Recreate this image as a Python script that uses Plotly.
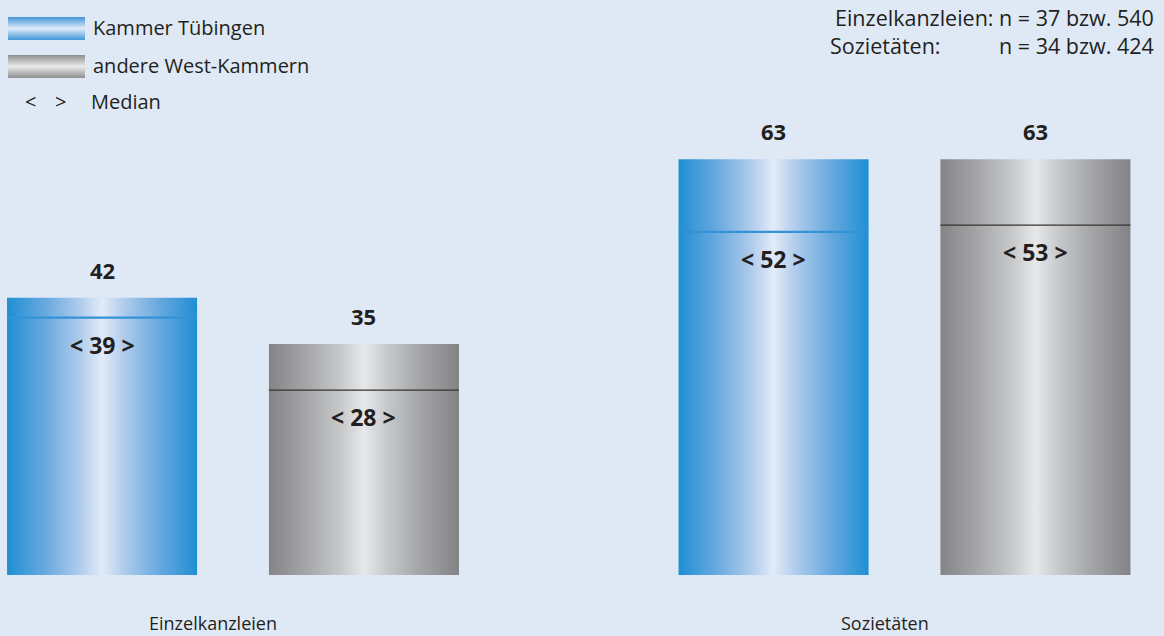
import plotly.graph_objects as go

# ---- data ----
groups = ["Einzelkanzleien", "Sozietäten"]
series_names = ["Kammer Tübingen", "andere West-Kammern"]
mean_tuebingen = [42, 63]
mean_west = [35, 63]
median_tuebingen = [39, 52]
median_west = [28, 53]
n_line1 = "Einzelkanzleien: n = 37 bzw. 540"
n_line2_label = "Sozietäten:"
n_line2_value = "n = 34 bzw. 424"

# ---- style ----
W, H = 1164, 636
BG = "#dfe9f5"
TXT = "#231f20"
FONT = "Open Sans"
BLUE_SCALE = [[0, "#1f8fd3"], [0.2, "#68a9df"], [0.38, "#aecbec"], [0.5, "#e2ebf8"],
              [0.62, "#aecbec"], [0.8, "#68a9df"], [1, "#1f8fd3"]]
GRAY_SCALE = [[0, "#848486"], [0.22, "#a9aaac"], [0.38, "#c8c9cb"], [0.5, "#e7e8ea"],
              [0.62, "#c8c9cb"], [0.8, "#a3a4a6"], [1, "#838385"]]
BLUE_SW = [[0, "#4296d8"], [0.5, "#e0eaf8"], [1, "#4296d8"]]
GRAY_SW = [[0, "#8d8d8f"], [0.5, "#ebebec"], [1, "#8d8d8f"]]

bar_w = 0.283
offset = 0.195
series = [
    (mean_tuebingen, median_tuebingen, -offset, BLUE_SCALE, "#3493d6", 2.2),
    (mean_west, median_west, offset, GRAY_SCALE, "#333333", 1.2),
]

fig = go.Figure()
annotations = []

for means, medians, off, cscale, mcol, mw in series:
    for gi, (v, m) in enumerate(zip(means, medians)):
        c = gi + off
        x0, x1 = c - bar_w / 2, c + bar_w / 2
        fig.add_trace(go.Scatter(
            x=[x0, x1, x1, x0, x0], y=[0, 0, v, v, 0],
            mode="lines", fill="toself",
            line=dict(width=0, color="rgba(0,0,0,0)"),
            fillgradient=dict(type="horizontal", colorscale=cscale),
            hoverinfo="skip", showlegend=False))
        fig.add_trace(go.Scatter(
            x=[x0, x1], y=[m, m], mode="lines",
            line=dict(color=mcol, width=mw),
            hoverinfo="skip", showlegend=False))
        annotations.append(dict(x=c, y=v, xref="x", yref="y", text=f"<b>{v}</b>",
                                showarrow=False, yanchor="middle", yshift=28,
                                font=dict(size=22, color=TXT, family=FONT)))
        annotations.append(dict(x=c, y=m, xref="x", yref="y",
                                text=f"<b>&lt; {m} &gt;</b>",
                                showarrow=False, yanchor="middle", yshift=-27,
                                font=dict(size=23, color=TXT, family=FONT)))

for gi, g in enumerate(groups):
    annotations.append(dict(x=gi, y=-7.2, xref="x", yref="y", text=g, showarrow=False,
                            xshift=-20, yanchor="middle",
                            font=dict(size=18, color=TXT, family=FONT)))

# ---- legend (drawn on a pixel overlay axis) ----
for (y0, y1), cs in zip([(17, 40), (55, 78)], [BLUE_SW, GRAY_SW]):
    fig.add_trace(go.Scatter(
        x=[8, 85, 85, 8, 8], y=[y0, y0, y1, y1, y0], xaxis="x2", yaxis="y2",
        mode="lines", fill="toself", line=dict(width=0, color="rgba(0,0,0,0)"),
        fillgradient=dict(type="vertical", colorscale=cs),
        hoverinfo="skip", showlegend=False))

def px(x, y):
    return x / W, 1 - y / H

for name, ly in zip(series_names, [28, 66]):
    xx, yy = px(91, ly)
    annotations.append(dict(x=xx, y=yy, xref="paper", yref="paper", text=name,
                            showarrow=False, xanchor="left", yanchor="middle",
                            font=dict(size=20, color=TXT, family=FONT)))
for sym, lx in [("&lt;", 30), ("&gt;", 60)]:
    xx, yy = px(lx, 102)
    annotations.append(dict(x=xx, y=yy, xref="paper", yref="paper", text=sym,
                            showarrow=False, xanchor="center", yanchor="middle",
                            font=dict(size=20, color=TXT, family=FONT)))
xx, yy = px(89, 102)
annotations.append(dict(x=xx, y=yy, xref="paper", yref="paper", text="Median",
                        showarrow=False, xanchor="left", yanchor="middle",
                        font=dict(size=20, color=TXT, family=FONT)))

# ---- n info top right ----
xx, yy = px(1156, 17)
annotations.append(dict(x=xx, y=yy, xref="paper", yref="paper", text=n_line1,
                        showarrow=False, xanchor="right", yanchor="middle",
                        font=dict(size=21.5, color=TXT, family=FONT)))
xx, yy = px(828, 46)
annotations.append(dict(x=xx, y=yy, xref="paper", yref="paper", text=n_line2_label,
                        showarrow=False, xanchor="left", yanchor="middle",
                        font=dict(size=21.5, color=TXT, family=FONT)))
xx, yy = px(1156, 46)
annotations.append(dict(x=xx, y=yy, xref="paper", yref="paper", text=n_line2_value,
                        showarrow=False, xanchor="right", yanchor="middle",
                        font=dict(size=21.5, color=TXT, family=FONT)))

scale = 6.6
base_px = 575
x_left = -233 / 671.5
x_right = (W - 233) / 671.5

fig.update_layout(
    width=W, height=H,
    margin=dict(l=0, r=0, t=0, b=0),
    paper_bgcolor=BG, plot_bgcolor=BG,
    showlegend=False,
    xaxis=dict(range=[x_left, x_right], domain=[0, 1], visible=False, fixedrange=True),
    yaxis=dict(range=[-(H - base_px) / scale, base_px / scale], domain=[0, 1],
               visible=False, fixedrange=True),
    xaxis2=dict(range=[0, W], domain=[0, 1], overlaying="x", anchor="y2", visible=False),
    yaxis2=dict(range=[H, 0], domain=[0, 1], overlaying="y", anchor="x2", visible=False),
    annotations=annotations,
    font=dict(family=FONT, color=TXT),
)

fig.write_html("out.html")
